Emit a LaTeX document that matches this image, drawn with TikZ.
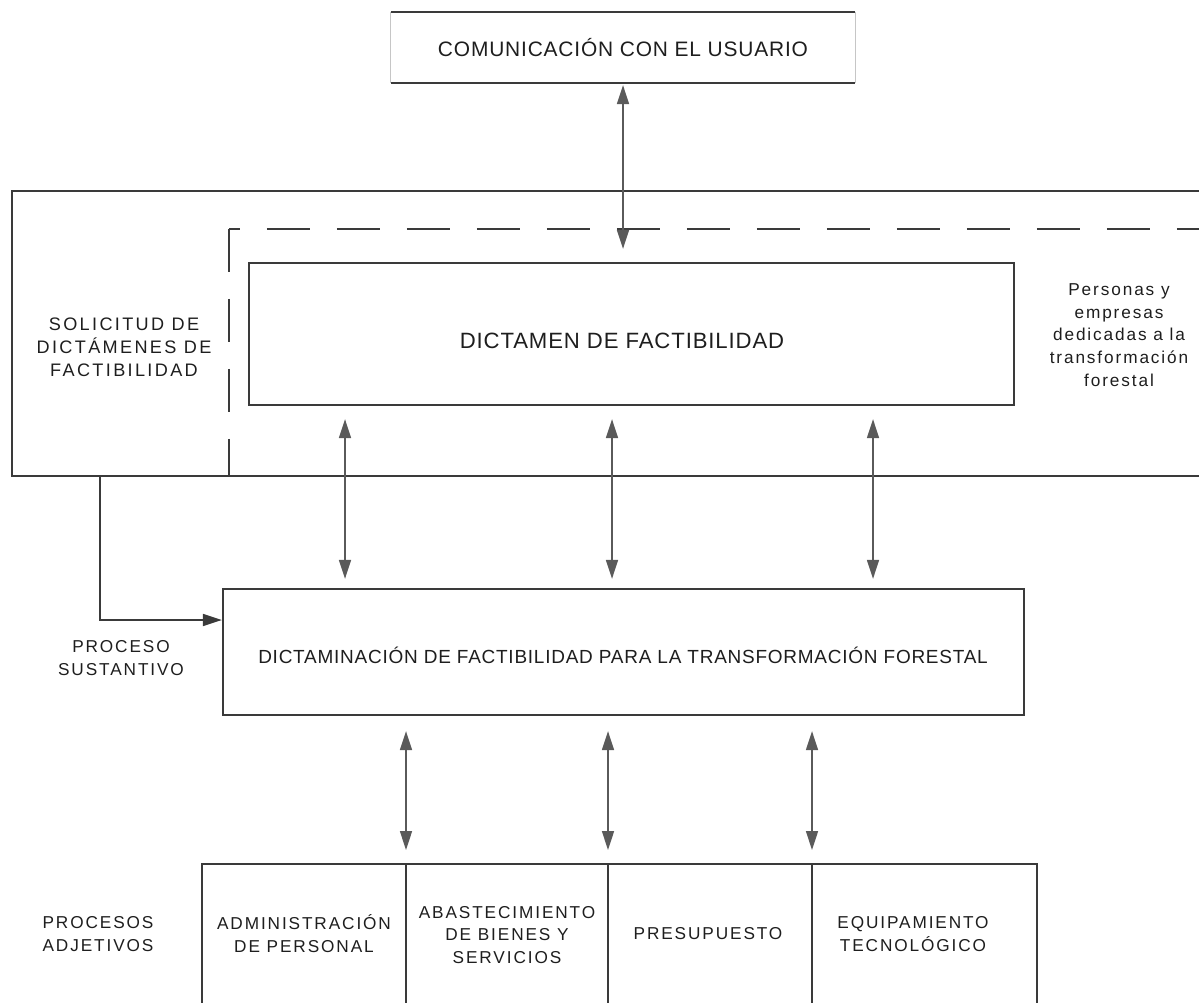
\documentclass[tikz,border=0pt]{standalone}
\usepackage{fontspec}
\setmainfont{Liberation Sans}
\newfontfamily\lsa{Liberation Sans}[LetterSpace=4]
\newfontfamily\lsb{Liberation Sans}[LetterSpace=11]
\newfontfamily\lsc{Liberation Sans}[LetterSpace=13]
\usetikzlibrary{arrows.meta,fit,calc}
\definecolor{ink}{HTML}{1E1E1E}
\definecolor{linec}{HTML}{3A3A3A}
\definecolor{arrc}{HTML}{5A5A5A}
\begin{document}
\begin{tikzpicture}[x=0.02cm,y=-0.02cm,
  box/.style={draw=linec, line width=1.3pt, inner sep=0pt},
  frame/.style={draw=linec, line width=1.3pt},
  txt/.style={text=ink, align=center, inner sep=0pt},
  tipx/.tip={Triangle[length=0.38cm,width=0.24cm]},
  darr/.style={draw=arrc, line width=0.9pt, tipx-tipx},
  sarr/.style={draw=linec, line width=0.9pt, -tipx},
  lbl/.style={text=ink, align=center, font=\lsb\fontsize{9.8}{13}\selectfont},
  dsh/.style={draw=linec, line width=1.3pt, dash pattern=on 0.86cm off 0.54cm}
]
\useasboundingbox[fill=white] (0,0) rectangle (1199,1003);

% top box (faint sides)
\node[box, draw=none, fit={(392,13) (854,82)}] (top) {};
\draw[frame] (top.north west) -- (top.north east) (top.south west) -- (top.south east);
\draw[gray!45, line width=0.6pt] (top.north west) -- (top.south west) (top.north east) -- (top.south east);
\node[txt, font=\lsa\fontsize{11.9}{14}\selectfont] (topT) at (623,48) {COMUNICACIÓN CON EL USUARIO};

% outer frame (open to the right)
\coordinate (oTR) at (1199,191);
\coordinate (oTL) at (12,191);
\coordinate (oBL) at (12,476);
\coordinate (oBR) at (1199,476);
\draw[frame] (oTR) -- (oTL) -- (oBL) -- (oBR);

% dashed boundary
\coordinate (dC) at (229,229);
\coordinate (dR) at (1199,229);
\coordinate (dB) at (229,476);
\draw[dsh, dash phase=0.64cm] (dC) -- (dR);
\draw[dsh] (dC) -- (dB);

% inner box
\node[box, fit={(249,263) (1014,405)}] (inner) {};
\node[txt, font=\lsa\fontsize{12.6}{15}\selectfont] (innerT) at (622,341) {DICTAMEN DE FACTIBILIDAD};

% lower box
\node[box, fit={(223,589) (1024,715)}] (low) {};
\node[txt, font=\lsa\fontsize{10.8}{13}\selectfont] (lowT) at (623,655) {DICTAMINACIÓN DE FACTIBILIDAD PARA LA TRANSFORMACIÓN FORESTAL};

% bottom row (open at the bottom)
\coordinate (r0) at (202,864);
\coordinate (r1) at (406,864);
\coordinate (r2) at (608,864);
\coordinate (r3) at (812,864);
\coordinate (r4) at (1037,864);
\draw[frame] (r0 |- 0,1003) -- (r0) -- (r4) -- (r4 |- 0,1003);
\draw[frame] (r1) -- (r1 |- 0,1003) (r2) -- (r2 |- 0,1003) (r3) -- (r3 |- 0,1003);

\node[lbl] (adm) at (304,934) {ADMINISTRACIÓN\\DE PERSONAL};
\node[lbl] (aba) at (507,935) {ABASTECIMIENTO\\DE BIENES Y\\SERVICIOS};
\node[lbl] (pre) at (708,934) {PRESUPUESTO};
\node[lbl] (equ) at (913,934) {EQUIPAMIENTO\\TECNOLÓGICO};

% side labels
\node[lbl, font=\lsc\fontsize{10.3}{13}\selectfont] (sol) at (124,347) {SOLICITUD DE\\DICTÁMENES DE\\FACTIBILIDAD};
\node[lbl] (per) at (1119,335) {Personas y\\empresas\\dedicadas a la\\transformación\\forestal};
\node[lbl] (sus) at (121,658) {PROCESO\\SUSTANTIVO};
\node[lbl] (adj) at (98,934) {PROCESOS\\ADJETIVOS};

% connectors
\draw[darr, shorten <=0.04cm, shorten >=0.26cm] (top.south) -- (top.south |- inner.north);
\foreach \xx in {345,612,873}
  \draw[darr, shorten <=0.26cm, shorten >=0.18cm] (\xx,0 |- inner.south) -- (\xx,0 |- low.north);
\draw[darr, shorten <=0.30cm, shorten >=0.28cm] (r1 |- low.south) -- (r1);
\draw[darr, shorten <=0.30cm, shorten >=0.28cm] (r2 |- low.south) -- (r2);
\draw[darr, shorten <=0.30cm, shorten >=0.28cm] (r3 |- low.south) -- (r3);
\draw[sarr] (100,0 |- oBL) |- (low.west |- 0,620);
\end{tikzpicture}
\end{document}
